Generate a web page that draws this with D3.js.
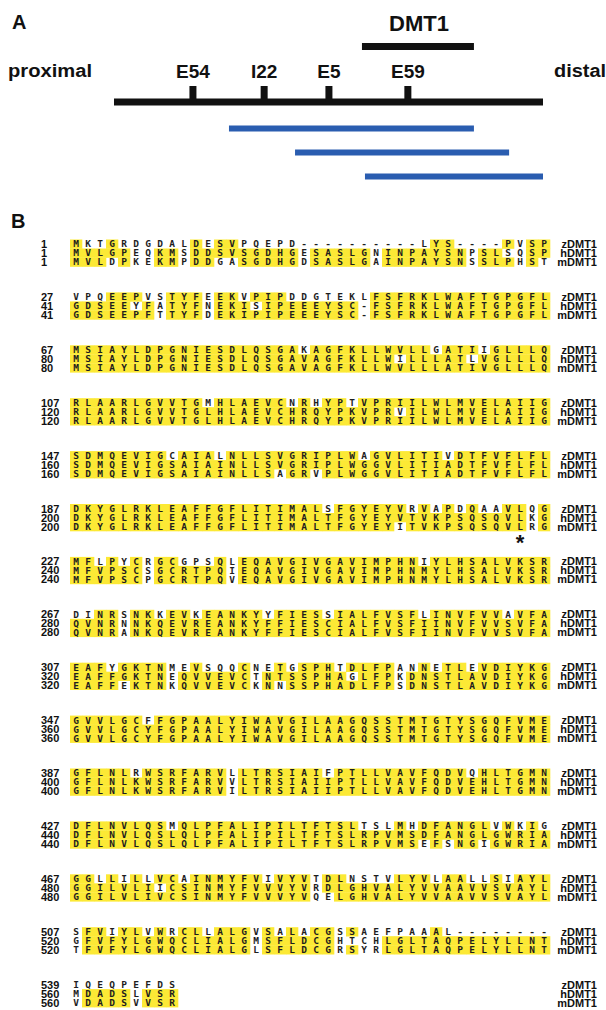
<!DOCTYPE html>
<html><head><meta charset="utf-8">
<script src="https://cdn.jsdelivr.net/npm/d3@7"></script>
<style>body{margin:0;background:#fff;}svg{display:block;}</style>
</head><body><svg id="c" width="606" height="1010"></svg>
<script>
// ---------- Panel A data (map coordinates, 0 = proximal end, 100 = distal end)
const mapMarkers = ["E54", "I22", "E5", "E59"];
const markerPos = [18.4, 35.0, 50.1, 68.5];
const geneName = "DMT1";
const geneSpan = [57.8, 83.9];
const cloneStarts = [26.8, 42.2, 58.5];
const cloneEnds = [83.9, 92.1, 100];

// ---------- Panel B data
const species = ["zDMT1", "hDMT1", "mDMT1"];
const zStarts = [1, 27, 67, 107, 147, 187, 227, 267, 307, 347, 387, 427, 467, 507, 539];
const hStarts = [1, 41, 80, 120, 160, 200, 240, 280, 320, 360, 400, 440, 480, 520, 560];
const mStarts = [1, 41, 80, 120, 160, 200, 240, 280, 320, 360, 400, 440, 480, 520, 560];
const zRows = [
  "MKTGRDGDALDESVPQEPD----------LYS----PVSP",
  "VPQEEPVSTYFEEKVPIPDDGTEKLFSFRKLWAFTGPGFL",
  "MSIAYLDPGNIESDLQSGAKAGFKLLWVLLGATIIGLLLQ",
  "RLAARLGVVTGMHLAEVCNRHYPTVPRIILWLMVELAIIG",
  "SDMQEVIGCAIALNLLSVGRIPLWAGVLITIVDTFVFLFL",
  "DKYGLRKLEAFFGFLITIMALSFGYEYVRVAPDQAAVLQG",
  "MFLPYCRGCGPSQLEQAVGIVGAVIMPHNIYLHSALVKSR",
  "DINRSNKKEVKEANKYYFIESSIALFVSFLINVFVVAVFA",
  "EAFYGKTNMEVSQQCNETGSPHTDLFPANNETLEVDIYKG",
  "GVVLGCFFGPAALYIWAVGILAAGQSSTMTGTYSGQFVME",
  "GFLNLRWSRFARVLLTRSIAIFPTLLVAVFQDVQHLTGMN",
  "DFLNVLQSMQLPFALIPILTFTSLTSLMHDFANGLVWKIG",
  "GGLLILLVCAINMYFVIVYVTDLNSTVLYVLAALLSIAYL",
  "SFVIYLVWRCLLALGVSALACGSSAEFPAAAL--------",
  "IQEQPEFDS"
];
const hRows = [
  "MVLGPEQKMSDDSVSGDHGESASLGNINPAYSNPSLSQSP",
  "GDSEEYFATYFNEKISIPEEEYSC-FSFRKLWAFTGPGFL",
  "MSIAYLDPGNIESDLQSGAVAGFKLLWILLLATLVGLLLQ",
  "RLAARLGVVTGLHLAEVCHRQYPKVPRVILWLMVELAIIG",
  "SDMQEVIGSAIAINLLSVGRIPLWGGVLITIADTFVFLFL",
  "DKYGLRKLEAFFGFLITIMALTFGYEYVTVKPSQSQVLKG",
  "MFVPSCSGCRTPQIEQAVGIVGAVIMPHNMYLHSALVKSR",
  "QVNRNNKQEVREANKYFFIESCIALFVSFIINVFVVSVFA",
  "EAFFGKTNEQVVEVCTNTSSPHAGLFPKDNSTLAVDIYKG",
  "GVVLGCYFGPAALYIWAVGILAAGQSSTMTGTYSGQFVME",
  "GFLNLKWSRFARVVLTRSIAIIPTLLVAVFQDVEHLTGMN",
  "DFLNVLQSLQLPFALIPILTFTSLRPVMSDFANGLGWRIA",
  "GGILVLIICSINMYFVVVYVRDLGHVALYVVAAVVSVAYL",
  "GFVFYLGWQCLIALGMSFLDCGHTCHLGLTAQPELYLLNT",
  "MDADSLVSR"
];
const mRows = [
  "MVLDPKEKMPDDGASGDHGDSASLGAINPAYSNSSLPHST",
  "GDSEEPFTTYFDEKIPIPEEEYSC-FSFRKLWAFTGPGFL",
  "MSIAYLDPGNIESDLQSGAVAGFKLLWVLLLATIVGLLLQ",
  "RLAARLGVVTGLHLAEVCHRQYPKVPRIILWLMVELAIIG",
  "SDMQEVIGSAIAINLLSAGRVPLWGGVLITIADTFVFLFL",
  "DKYGLRKLEAFFGFLITIMALTFGYEYITVKPSQSQVLRG",
  "MFVPSCPGCRTPQVEQAVGIVGAVIMPHNMYLHSALVKSR",
  "QVNRANKQEVREANKYFFIESCIALFVSFIINVFVVSVFA",
  "EAFFEKTNKQVVEVCKNNSSPHADLFPSDNSTLAVDIYKG",
  "GVVLGCYFGPAALYIWAVGILAAGQSSTMTGTYSGQFVME",
  "GFLNLKWSRFARVILTRSIAIIPTLLVAVFQDVEHLTGMN",
  "DFLNVLQSLQLPFALIPILTFTSLRPVMSEFSNGIGWRIA",
  "GGILVLIVCSINMYFVVVYVQELGHVALYVVAAVVSVAYL",
  "TFVFYLGWQCLIALGLSFLDCGRSYRLGLTAQPELYLLNT",
  "VDADSVVSR"
];
// asterisk: block index, sequence row, column
const asteriskAt = [5, 2, 37];

// ---------- drawing
const svg = d3.select("#c");
const FONT = "'Liberation Sans', Arial, Helvetica, sans-serif";
const YEL = "#fce935";

// Panel A
svg.append("text").attr("x", 12).attr("y", 29).text("A")
  .attr("font-family", FONT).attr("font-weight", "bold").attr("font-size", 20).attr("fill", "#111");

const xMap = d3.scaleLinear().domain([0, 100]).range([114, 543]);
const lineY = 102;

svg.append("text").attr("x", 8).attr("y", 77).text("proximal")
  .attr("font-family", FONT).attr("font-weight", "bold").attr("font-size", 18).attr("fill", "#111")
  .attr("textLength", 84).attr("lengthAdjust", "spacingAndGlyphs");
svg.append("text").attr("x", 554).attr("y", 77).text("distal")
  .attr("font-family", FONT).attr("font-weight", "bold").attr("font-size", 18).attr("fill", "#111")
  .attr("textLength", 52).attr("lengthAdjust", "spacingAndGlyphs");

// gene bar + label
svg.append("rect").attr("x", xMap(geneSpan[0])).attr("y", 43)
  .attr("width", xMap(geneSpan[1]) - xMap(geneSpan[0])).attr("height", 7).attr("fill", "#111");
svg.append("text").attr("x", (xMap(geneSpan[0]) + xMap(geneSpan[1])) / 2 + 1).attr("y", 31)
  .attr("text-anchor", "middle").text(geneName)
  .attr("font-family", FONT).attr("font-weight", "bold").attr("font-size", 22).attr("fill", "#111");

// main line
svg.append("rect").attr("x", xMap(0)).attr("y", lineY - 3.5)
  .attr("width", xMap(100) - xMap(0)).attr("height", 7).attr("fill", "#111");
// marker ticks & labels
const mk = svg.append("g").selectAll("g").data(mapMarkers).join("g");
mk.append("rect").attr("x", (d, i) => xMap(markerPos[i]) - 3.5).attr("y", 86)
  .attr("width", 7).attr("height", lineY - 86).attr("fill", "#111");
mk.append("text").attr("x", (d, i) => xMap(markerPos[i])).attr("y", 78)
  .attr("text-anchor", "middle").text(d => d)
  .attr("font-family", FONT).attr("font-weight", "bold").attr("font-size", 19).attr("fill", "#111");

// clone bars
const cloneY = d3.scalePoint().domain(d3.range(cloneStarts.length)).range([128.5, 176.5]);
svg.append("g").selectAll("rect").data(cloneStarts).join("rect")
  .attr("x", d => xMap(d)).attr("y", (d, i) => cloneY(i) - 3)
  .attr("width", (d, i) => xMap(cloneEnds[i]) - xMap(d)).attr("height", 6)
  .attr("fill", "#2a5db0");

// Panel B
svg.append("text").attr("x", 11).attr("y", 228).text("B")
  .attr("font-family", FONT).attr("font-weight", "bold").attr("font-size", 20).attr("fill", "#111");

const nCols = 40;
const pitch = 12.0;
const xCol = d3.scaleLinear().domain([0, nCols - 1]).range([76, 76 + pitch * (nCols - 1)]);
const yBlock = d3.scaleLinear().domain([0, zRows.length - 1]).range([244, 244 + 52.9 * (zRows.length - 1)]);
const rowGap = 9;
const rows = [zRows, hRows, mRows];
const starts = [zStarts, hStarts, mStarts];

const cells = [];
const labels = [];
zRows.forEach((_, b) => {
  rows.forEach((R, s) => {
    const seq = R[b];
    const y = yBlock(b) + s * rowGap;
    labels.push({ b, s, y });
    for (let c = 0; c < seq.length; c++) {
      const ch = seq[c];
      let hit = false;
      if (ch !== "-") {
        rows.forEach((R2, s2) => { if (s2 !== s && R2[b][c] === ch) hit = true; });
      }
      cells.push({ ch, c, y, hit });
    }
  });
});

svg.append("g").selectAll("rect").data(cells.filter(d => d.hit)).join("rect")
  .attr("x", d => xCol(d.c) - pitch / 2).attr("y", d => d.y - rowGap / 2)
  .attr("width", pitch + 0.3).attr("height", rowGap + 0.3).attr("fill", YEL);

svg.append("g").selectAll("text").data(cells).join("text")
  .attr("x", d => xCol(d.c)).attr("y", d => d.y + 3.4)
  .attr("text-anchor", "middle").text(d => d.ch)
  .attr("font-family", "'DejaVu Sans Mono', monospace").attr("font-weight", "bold")
  .attr("font-size", 9.5).attr("fill", "#1e1e1e");

svg.append("g").selectAll("text").data(labels).join("text")
  .attr("x", 41).attr("y", d => d.y + 4)
  .text(d => starts[d.s][d.b])
  .attr("font-family", FONT).attr("font-weight", "bold").attr("font-size", 11).attr("fill", "#111");

svg.append("g").selectAll("text").data(labels).join("text")
  .attr("x", 597).attr("y", d => d.y + 4).attr("text-anchor", "end")
  .text(d => species[d.s])
  .attr("font-family", FONT).attr("font-weight", "bold").attr("font-size", 11).attr("fill", "#111");

svg.append("text")
  .attr("x", xCol(asteriskAt[2]))
  .attr("y", yBlock(asteriskAt[0]) + asteriskAt[1] * rowGap + 23)
  .attr("text-anchor", "middle").text("*")
  .attr("font-family", FONT).attr("font-weight", "bold").attr("font-size", 22).attr("fill", "#111");
</script></body></html>
